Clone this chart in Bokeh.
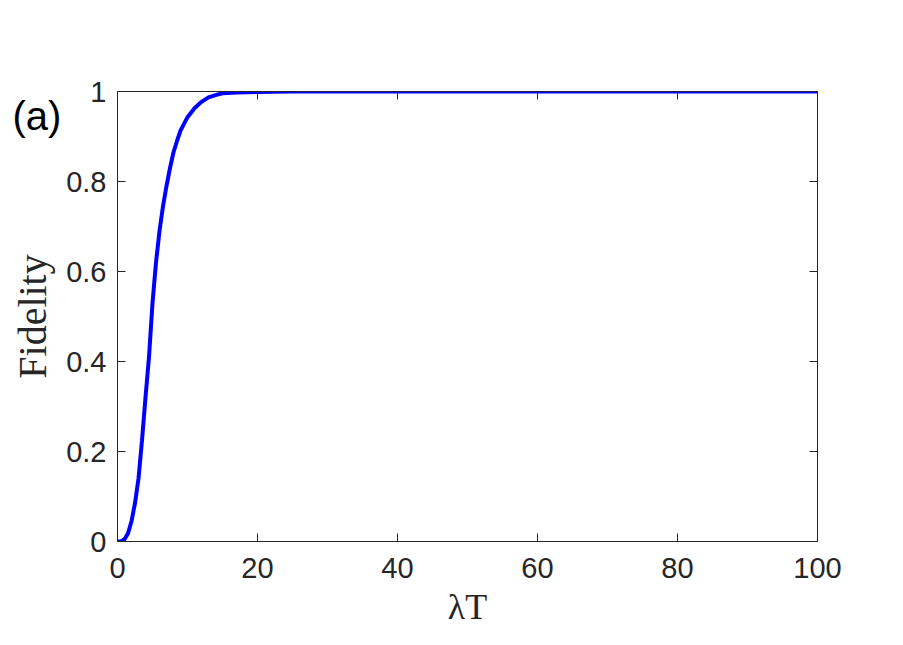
from bokeh.plotting import figure
from bokeh.models import Range1d, LinearAxis, FixedTicker
from bokeh.embed import file_html
from bokeh.resources import INLINE

# Data
lambda_T = [0, 0.5, 1, 1.5, 2, 2.5, 3, 3.5, 4, 4.5, 5, 5.5, 6, 6.5, 7, 7.5, 8, 8.5, 9, 10,
            11, 12, 13, 14, 15, 17, 20, 25, 30, 40, 50, 60, 70, 80, 90, 100]
fidelity = [0.0, 0.0, 0.005, 0.018, 0.045, 0.085, 0.14, 0.225, 0.32, 0.41, 0.53, 0.62, 0.69,
            0.745, 0.79, 0.83, 0.865, 0.89, 0.913, 0.943, 0.963, 0.977, 0.987, 0.992, 0.996,
            0.998, 0.999, 1.0, 1.0, 1.0, 1.0, 1.0, 1.0, 1.0, 1.0, 1.0]
x_ticks = [0, 20, 40, 60, 80, 100]
y_ticks = [0, 0.2, 0.4, 0.6, 0.8, 1]
y_tick_labels = {0: "0", 0.2: "0.2", 0.4: "0.4", 0.6: "0.6", 0.8: "0.8", 1: "1"}
panel_tag = "(a)"

AX = "#262626"
SANS = "Liberation Sans"
SERIF = "Liberation Serif"

W, H = 887, 629
p = figure(width=W, height=H, output_backend="svg", toolbar_location=None,
           x_range=Range1d(0, 100), y_range=Range1d(0, 1),
           min_border_left=117, min_border_right=W - 817, min_border_top=91, min_border_bottom=H - 549)
p.background_fill_color = "white"
p.border_fill_color = "white"
p.grid.visible = False
p.outline_line_color = AX
p.outline_line_width = 1

p.line(lambda_T, fidelity, line_color="#0000FF", line_width=4)

for ax, ticks in ((p.xaxis[0], x_ticks), (p.yaxis[0], y_ticks)):
    ax.ticker = FixedTicker(ticks=ticks)
    ax.axis_line_color = AX
    ax.major_tick_line_color = AX
    ax.major_tick_in = 8
    ax.major_tick_out = 0
    ax.minor_tick_line_color = None
    ax.major_label_text_font = SANS
    ax.major_label_text_font_size = "29px"
    ax.major_label_text_color = AX
    ax.axis_label_text_font = SERIF
    ax.axis_label_text_font_style = "normal"
    ax.axis_label_text_color = AX

p.yaxis[0].major_label_overrides = y_tick_labels
p.xaxis[0].axis_label = "λT"
p.yaxis[0].axis_label = "Fidelity"
p.xaxis[0].axis_label_text_font_size = "36px"
p.yaxis[0].axis_label_text_font_size = "40px"
p.xaxis[0].major_label_standoff = 16
p.xaxis[0].axis_label_standoff = 6
p.yaxis[0].major_label_standoff = 11
p.yaxis[0].axis_label_standoff = 8

# Box ticks on top and right
for loc, ticks in (("above", x_ticks), ("right", y_ticks)):
    a = LinearAxis(ticker=FixedTicker(ticks=ticks))
    a.axis_line_color = AX
    a.major_tick_line_color = AX
    a.major_tick_in = 8
    a.major_tick_out = 0
    a.minor_tick_line_color = None
    a.major_label_text_font_size = "0px"
    a.major_label_text_color = None
    a.major_label_standoff = 0
    p.add_layout(a, loc)

# panel tag "(a)" as the plot title, shifted left of the frame and down beside the top tick
p.title.text = panel_tag
p.title.align = "left"
p.title.offset = -105
p.title.vertical_align = "bottom"
p.title.standoff = -92
p.title.text_font = SANS
p.title.text_font_size = "40px"
p.title.text_font_style = "normal"
p.title.text_color = "black"

open("out.html", "w").write(file_html(p, INLINE))
